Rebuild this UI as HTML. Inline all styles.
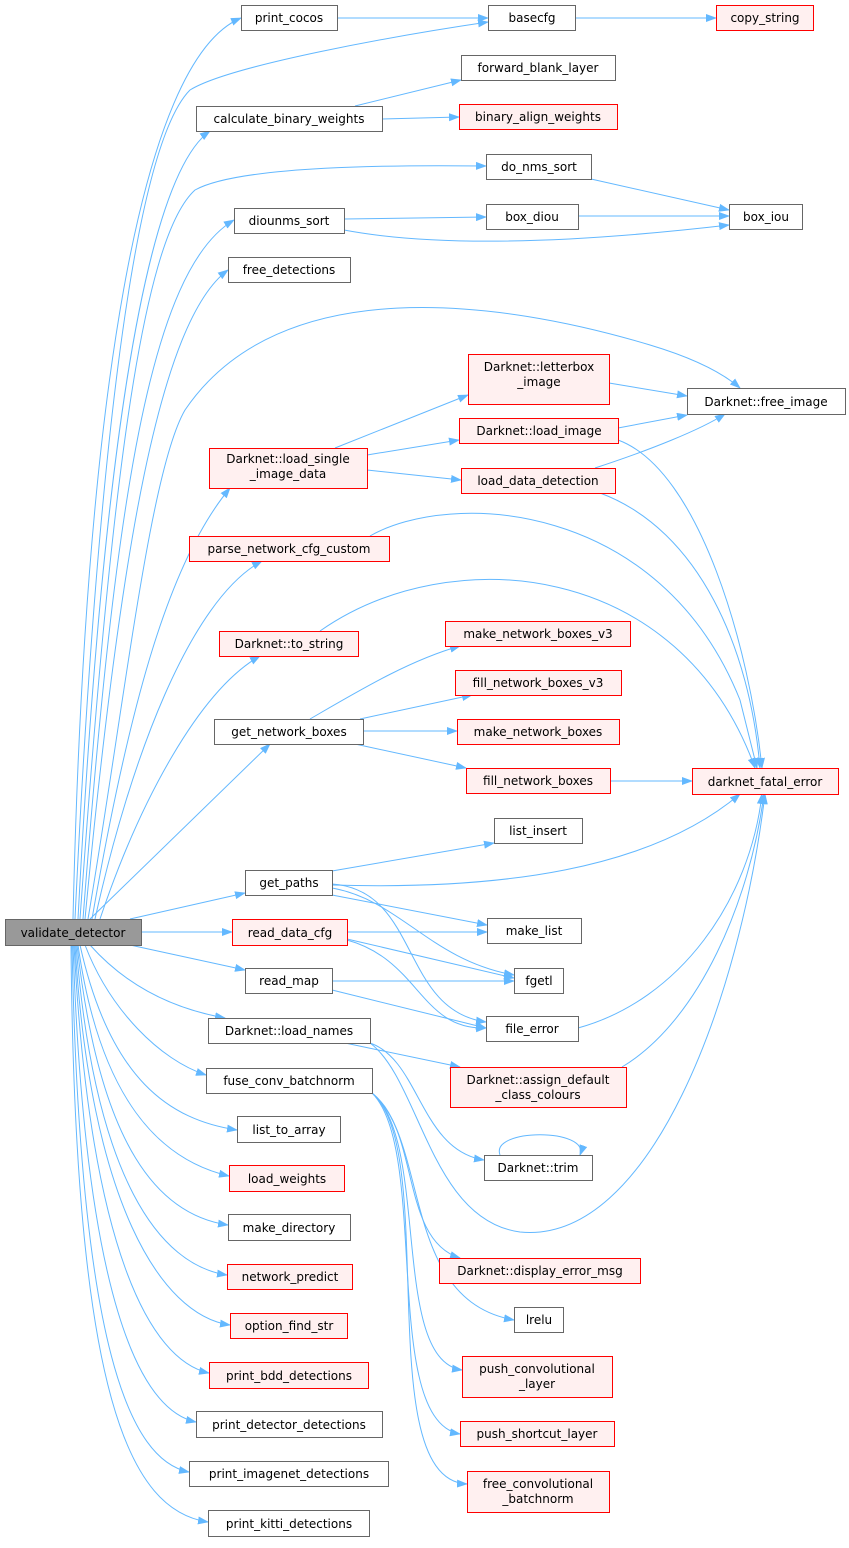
<!DOCTYPE html>
<html><head><meta charset="utf-8"><style>
html,body{margin:0;padding:0;background:#fff;}
svg text{font-family:"DejaVu Sans","Liberation Sans",sans-serif;font-size:12px;fill:#000;}
</style></head><body>
<svg width="849" height="1543" viewBox="0 0 849 1543" xmlns="http://www.w3.org/2000/svg">
<defs><marker id="a" markerWidth="11" markerHeight="8" refX="10" refY="4" orient="auto" markerUnits="userSpaceOnUse"><path d="M0,0 L11,4 L0,8 z" fill="#63b8ff"/></marker></defs>
<g fill="none" stroke="#63b8ff" stroke-width="1" marker-end="url(#a)">
<path d="M73,919 C85,400 140,60 241,18"/>
<path d="M75,919 C95,500 130,150 190,90 C230,65 400,35 488,22"/>
<path d="M78,919 C100,500 140,180 210,131"/>
<path d="M80,919 C110,500 140,240 195,190 C240,165 400,165 486,166"/>
<path d="M83,919 C115,500 150,270 234,220"/>
<path d="M85,919 C120,550 160,320 228,270"/>
<path d="M88,919 C125,700 150,470 185,410 C280,270 500,300 650,345 C700,360 725,375 740,388"/>
<path d="M92,919 C130,700 170,560 230,488"/>
<path d="M95,919 C130,760 190,600 262,561"/>
<path d="M100,919 C140,800 200,690 260,656"/>
<path d="M90,919 L270,744"/>
<path d="M130,919 L245,893"/>
<path d="M141,932 L232,932"/>
<path d="M130,945 L245,970"/>
<path d="M90,945 C130,990 180,1010 225,1018"/>
<path d="M85,945 C110,1010 160,1060 206,1075"/>
<path d="M80,945 C110,1080 170,1120 237,1130"/>
<path d="M78,945 C100,1100 160,1160 229,1176"/>
<path d="M77,945 C100,1150 160,1215 228,1225"/>
<path d="M76,945 C95,1180 160,1265 227,1275"/>
<path d="M75,945 C90,1200 160,1315 230,1325"/>
<path d="M74,945 C90,1250 150,1360 209,1373"/>
<path d="M73,945 C85,1300 140,1410 196,1422"/>
<path d="M72,945 C80,1350 130,1460 189,1472"/>
<path d="M71,945 C75,1400 130,1510 208,1522"/>
<path d="M337,18 L488,18"/>
<path d="M575,18 L716,18"/>
<path d="M355,106 L461,80"/>
<path d="M382,119 L459,117"/>
<path d="M591,179 L729,210"/>
<path d="M344,219 L486,217"/>
<path d="M344,230 C450,250 600,240 729,225"/>
<path d="M578,216 L729,216"/>
<path d="M609,383 L687,396"/>
<path d="M335,448 L468,395"/>
<path d="M367,455 L459,440"/>
<path d="M367,470 L461,480"/>
<path d="M618,428 L687,415"/>
<path d="M618,440 C700,470 750,650 762,768"/>
<path d="M595,468 C650,450 700,430 725,414"/>
<path d="M600,493 C700,530 750,650 760,768"/>
<path d="M370,536 C450,490 660,500 740,700 L757,768"/>
<path d="M320,631 C450,540 680,560 755,768"/>
<path d="M310,719 C360,690 410,660 460,646"/>
<path d="M360,719 L472,695"/>
<path d="M363,731 L457,731"/>
<path d="M355,744 L466,768"/>
<path d="M610,781 L692,781"/>
<path d="M332,871 L494,843"/>
<path d="M332,885 C500,890 650,870 740,794"/>
<path d="M332,895 L487,925"/>
<path d="M332,888 C400,900 430,960 514,975"/>
<path d="M332,884 C420,890 400,1010 486,1022"/>
<path d="M347,932 L487,932"/>
<path d="M347,939 L514,978"/>
<path d="M347,940 C420,960 420,1030 486,1028"/>
<path d="M332,981 L514,981"/>
<path d="M332,990 L486,1028"/>
<path d="M578,1028 C680,1000 750,900 762,794"/>
<path d="M345,1043 L460,1067"/>
<path d="M370,1043 C420,1060 420,1150 484,1160"/>
<path d="M370,1043 C420,1080 430,1220 520,1232 C650,1245 740,1000 765,794"/>
<path d="M622,1067 C700,1020 750,900 764,794"/>
<path d="M500,1155 C490,1128 590,1128 580,1155"/>
<path d="M372,1093 C420,1130 400,1240 460,1258"/>
<path d="M372,1093 C430,1140 400,1300 514,1320"/>
<path d="M372,1093 C430,1140 390,1360 462,1370"/>
<path d="M372,1093 C430,1150 380,1420 460,1434"/>
<path d="M372,1093 C440,1150 370,1480 467,1484"/>
</g>
<g stroke-width="1">
<g fill="#fff" stroke="#666">
<rect x="241.5" y="5.5" width="96" height="25"/>
<rect x="488.5" y="5.5" width="87" height="25"/>
<rect x="461.5" y="55.5" width="154" height="25"/>
<rect x="196.5" y="106.5" width="186" height="25"/>
<rect x="486.5" y="154.5" width="105" height="25"/>
<rect x="234.5" y="208.5" width="110" height="25"/>
<rect x="486.5" y="204.5" width="92" height="25"/>
<rect x="729.5" y="204.5" width="73" height="25"/>
<rect x="228.5" y="257.5" width="122" height="25"/>
<rect x="687.5" y="388.5" width="158" height="26"/>
<rect x="214.5" y="719.5" width="149" height="25"/>
<rect x="494.5" y="818.5" width="88" height="25"/>
<rect x="245.5" y="870.5" width="87" height="25"/>
<rect x="487.5" y="918.5" width="94" height="25"/>
<rect x="514.5" y="968.5" width="49" height="25"/>
<rect x="245.5" y="968.5" width="87" height="25"/>
<rect x="486.5" y="1016.5" width="92" height="25"/>
<rect x="208.5" y="1018.5" width="162" height="25"/>
<rect x="206.5" y="1068.5" width="166" height="25"/>
<rect x="484.5" y="1155.5" width="108" height="25"/>
<rect x="237.5" y="1116.5" width="103" height="26"/>
<rect x="228.5" y="1214.5" width="122" height="26"/>
<rect x="514.5" y="1307.5" width="49" height="25"/>
<rect x="196.5" y="1411.5" width="186" height="26"/>
<rect x="189.5" y="1461.5" width="199" height="25"/>
<rect x="208.5" y="1510.5" width="161" height="26"/>
</g>
<rect x="5.5" y="919.5" width="136" height="26" fill="#999" stroke="#666"/>
<g fill="#fff0f0" stroke="#f00">
<rect x="716.5" y="5.5" width="97" height="25"/>
<rect x="459.5" y="104.5" width="158" height="25"/>
<rect x="468.5" y="354.5" width="141" height="50"/>
<rect x="209.5" y="448.5" width="158" height="40"/>
<rect x="459.5" y="418.5" width="159" height="25"/>
<rect x="461.5" y="468.5" width="154" height="25"/>
<rect x="189.5" y="536.5" width="200" height="25"/>
<rect x="219.5" y="631.5" width="139" height="25"/>
<rect x="445.5" y="621.5" width="185" height="25"/>
<rect x="455.5" y="670.5" width="166" height="25"/>
<rect x="457.5" y="719.5" width="162" height="25"/>
<rect x="466.5" y="768.5" width="144" height="25"/>
<rect x="692.5" y="768.5" width="146" height="26"/>
<rect x="232.5" y="919.5" width="115" height="26"/>
<rect x="450.5" y="1067.5" width="176" height="40"/>
<rect x="439.5" y="1258.5" width="201" height="25"/>
<rect x="229.5" y="1165.5" width="115" height="26"/>
<rect x="227.5" y="1264.5" width="125" height="25"/>
<rect x="230.5" y="1313.5" width="117" height="25"/>
<rect x="462.5" y="1356.5" width="150" height="41"/>
<rect x="209.5" y="1362.5" width="159" height="26"/>
<rect x="460.5" y="1421.5" width="154" height="25"/>
<rect x="467.5" y="1471.5" width="142" height="41"/>
</g>
</g>
<g text-anchor="middle">
<text x="289" y="22">print_cocos</text>
<text x="532" y="22">basecfg</text>
<text x="765" y="22">copy_string</text>
<text x="538" y="72">forward_blank_layer</text>
<text x="289" y="123">calculate_binary_weights</text>
<text x="538" y="121">binary_align_weights</text>
<text x="539" y="171">do_nms_sort</text>
<text x="289" y="225">diounms_sort</text>
<text x="532" y="221">box_diou</text>
<text x="766" y="221">box_iou</text>
<text x="289" y="274">free_detections</text>
<text x="766" y="406">Darknet::free_image</text>
<text x="539" y="371">Darknet::letterbox</text>
<text x="539" y="386">_image</text>
<text x="288" y="463">Darknet::load_single</text>
<text x="288" y="478">_image_data</text>
<text x="539" y="435">Darknet::load_image</text>
<text x="538" y="485">load_data_detection</text>
<text x="289" y="553">parse_network_cfg_custom</text>
<text x="289" y="648">Darknet::to_string</text>
<text x="538" y="638">make_network_boxes_v3</text>
<text x="538" y="687">fill_network_boxes_v3</text>
<text x="289" y="736">get_network_boxes</text>
<text x="538" y="736">make_network_boxes</text>
<text x="538" y="785">fill_network_boxes</text>
<text x="765" y="786">darknet_fatal_error</text>
<text x="538" y="835">list_insert</text>
<text x="289" y="887">get_paths</text>
<text x="534" y="935">make_list</text>
<text x="73" y="937">validate_detector</text>
<text x="290" y="937">read_data_cfg</text>
<text x="539" y="985">fgetl</text>
<text x="289" y="985">read_map</text>
<text x="532" y="1033">file_error</text>
<text x="289" y="1035">Darknet::load_names</text>
<text x="538" y="1084">Darknet::assign_default</text>
<text x="538" y="1099">_class_colours</text>
<text x="289" y="1085">fuse_conv_batchnorm</text>
<text x="538" y="1172">Darknet::trim</text>
<text x="289" y="1134">list_to_array</text>
<text x="287" y="1183">load_weights</text>
<text x="289" y="1232">make_directory</text>
<text x="540" y="1275">Darknet::display_error_msg</text>
<text x="290" y="1281">network_predict</text>
<text x="539" y="1324">lrelu</text>
<text x="289" y="1330">option_find_str</text>
<text x="537" y="1373">push_convolutional</text>
<text x="537" y="1388">_layer</text>
<text x="289" y="1380">print_bdd_detections</text>
<text x="537" y="1438">push_shortcut_layer</text>
<text x="289" y="1429">print_detector_detections</text>
<text x="289" y="1478">print_imagenet_detections</text>
<text x="538" y="1488">free_convolutional</text>
<text x="538" y="1503">_batchnorm</text>
<text x="289" y="1528">print_kitti_detections</text>
</g>
</svg>
</body></html>
